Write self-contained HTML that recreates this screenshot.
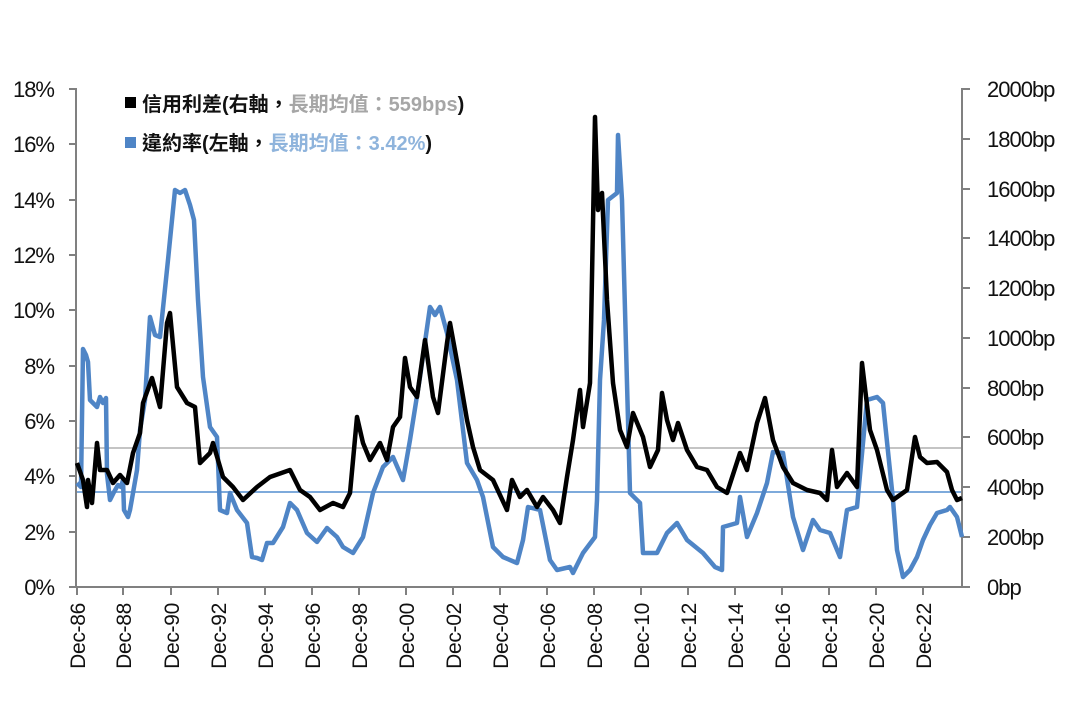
<!DOCTYPE html>
<html><head><meta charset="utf-8"><style>
body{margin:0;background:#fff;}
svg{display:block;}
text{font-family:"Liberation Sans","Noto Sans CJK TC",sans-serif;}
</style></head><body>
<svg width="1077" height="718" viewBox="0 0 1077 718" xmlns="http://www.w3.org/2000/svg">
<rect width="1077" height="718" fill="#fff"/>
<line x1="77" y1="448" x2="962" y2="448" stroke="#c4c4c4" stroke-width="2"/>
<line x1="77" y1="492" x2="962" y2="492" stroke="#7eaadb" stroke-width="2"/>
<g stroke="#808080" stroke-width="2" fill="none">
<line x1="76" y1="88" x2="76" y2="588"/>
<line x1="962" y1="88" x2="962" y2="588"/>
<line x1="69" y1="587" x2="962" y2="587"/>
</g>
<g stroke="#808080" stroke-width="2">
<line x1="69" y1="89" x2="76" y2="89"/><line x1="69" y1="144" x2="76" y2="144"/><line x1="69" y1="200" x2="76" y2="200"/><line x1="69" y1="255" x2="76" y2="255"/><line x1="69" y1="310" x2="76" y2="310"/><line x1="69" y1="366" x2="76" y2="366"/><line x1="69" y1="421" x2="76" y2="421"/><line x1="69" y1="476" x2="76" y2="476"/><line x1="69" y1="532" x2="76" y2="532"/>
<line x1="962" y1="89" x2="970" y2="89"/><line x1="962" y1="139" x2="970" y2="139"/><line x1="962" y1="189" x2="970" y2="189"/><line x1="962" y1="238" x2="970" y2="238"/><line x1="962" y1="288" x2="970" y2="288"/><line x1="962" y1="338" x2="970" y2="338"/><line x1="962" y1="388" x2="970" y2="388"/><line x1="962" y1="437" x2="970" y2="437"/><line x1="962" y1="487" x2="970" y2="487"/><line x1="962" y1="537" x2="970" y2="537"/><line x1="962" y1="587" x2="970" y2="587"/>
<line x1="77" y1="587" x2="77" y2="595"/><line x1="123" y1="587" x2="123" y2="595"/><line x1="171" y1="587" x2="171" y2="595"/><line x1="218" y1="587" x2="218" y2="595"/><line x1="265" y1="587" x2="265" y2="595"/><line x1="312" y1="587" x2="312" y2="595"/><line x1="359" y1="587" x2="359" y2="595"/><line x1="406" y1="587" x2="406" y2="595"/><line x1="453" y1="587" x2="453" y2="595"/><line x1="500" y1="587" x2="500" y2="595"/><line x1="547" y1="587" x2="547" y2="595"/><line x1="594" y1="587" x2="594" y2="595"/><line x1="641" y1="587" x2="641" y2="595"/><line x1="688" y1="587" x2="688" y2="595"/><line x1="735" y1="587" x2="735" y2="595"/><line x1="782" y1="587" x2="782" y2="595"/><line x1="829" y1="587" x2="829" y2="595"/><line x1="876" y1="587" x2="876" y2="595"/><line x1="923" y1="587" x2="923" y2="595"/>
</g>
<g font-size="22" fill="#111" text-anchor="end" letter-spacing="-1">
<text x="54" y="97">18%</text><text x="54" y="152">16%</text><text x="54" y="208">14%</text><text x="54" y="263">12%</text><text x="54" y="318">10%</text><text x="54" y="374">8%</text><text x="54" y="429">6%</text><text x="54" y="484">4%</text><text x="54" y="540">2%</text><text x="54" y="595">0%</text>
</g>
<g font-size="22" fill="#111" letter-spacing="-1">
<text x="987" y="97">2000bp</text><text x="987" y="147">1800bp</text><text x="987" y="197">1600bp</text><text x="987" y="246">1400bp</text><text x="987" y="296">1200bp</text><text x="987" y="346">1000bp</text><text x="987" y="396">800bp</text><text x="987" y="445">600bp</text><text x="987" y="495">400bp</text><text x="987" y="545">200bp</text><text x="987" y="595">0bp</text>
</g>
<g font-size="21" fill="#111" text-anchor="end" letter-spacing="-0.3">
<text transform="translate(85,603) rotate(-90)">Dec-86</text>
<text transform="translate(131,603) rotate(-90)">Dec-88</text>
<text transform="translate(179,603) rotate(-90)">Dec-90</text>
<text transform="translate(226,603) rotate(-90)">Dec-92</text>
<text transform="translate(273,603) rotate(-90)">Dec-94</text>
<text transform="translate(320,603) rotate(-90)">Dec-96</text>
<text transform="translate(367,603) rotate(-90)">Dec-98</text>
<text transform="translate(414,603) rotate(-90)">Dec-00</text>
<text transform="translate(461,603) rotate(-90)">Dec-02</text>
<text transform="translate(508,603) rotate(-90)">Dec-04</text>
<text transform="translate(555,603) rotate(-90)">Dec-06</text>
<text transform="translate(602,603) rotate(-90)">Dec-08</text>
<text transform="translate(649,603) rotate(-90)">Dec-10</text>
<text transform="translate(696,603) rotate(-90)">Dec-12</text>
<text transform="translate(743,603) rotate(-90)">Dec-14</text>
<text transform="translate(790,603) rotate(-90)">Dec-16</text>
<text transform="translate(837,603) rotate(-90)">Dec-18</text>
<text transform="translate(884,603) rotate(-90)">Dec-20</text>
<text transform="translate(931,603) rotate(-90)">Dec-22</text>
</g>
<polyline fill="none" stroke="#4f85c6" stroke-width="4.5" stroke-linejoin="round" points="77,483 81,487 83,349 86,355 88,362 90,400 97,407 100,397 103,403 106,398 107,474 110,500 114,492 118,485 121,487 123,480 124,510 128,517 130,510 133,493 137,470 140,430 145,400 150,317 155,335 160,337 168,260 175,190 180,193 185,190 190,205 194,220 198,300 203,377 210,427 217,437 220,510 227,513 230,493 237,510 247,523 252,557 257,558 262,560 267,543 273,543 283,527 290,503 297,510 307,533 317,542 327,528 337,537 343,547 353,553 363,537 373,493 383,467 393,457 403,480 410,440 420,377 430,307 435,315 440,307 447,333 457,380 467,463 477,480 483,497 493,547 503,557 517,563 523,540 528,507 540,510 550,560 557,570 570,567 573,573 583,553 595,537 597,500 600,380 604,320 608,200 617,193 618,135 622,200 630,493 640,503 643,553 657,553 667,533 677,523 687,540 703,553 715,567 722,570 723,527 737,523 740,497 747,537 757,513 767,483 773,452 783,453 793,517 803,550 813,520 820,530 830,533 840,557 847,510 857,507 867,400 877,397 883,403 893,500 897,550 903,577 910,570 917,557 923,540 930,525 937,513 947,510 950,507 957,517 962,537"/>
<polyline fill="none" stroke="#000" stroke-width="4.5" stroke-linejoin="round" points="77,463 83,480 87,507 88,480 92,503 97,443 100,470 107,470 113,483 120,475 127,483 133,453 140,433 143,403 152,378 160,407 167,323 170,313 177,387 187,403 195,407 200,463 210,453 213,443 223,477 233,487 243,500 257,487 270,477 290,470 300,490 310,497 320,510 333,503 343,507 350,493 357,417 363,443 370,460 380,443 387,460 393,427 400,417 405,358 410,387 417,397 425,340 433,397 438,413 447,343 450,323 458,367 467,420 473,447 480,470 493,480 507,510 512,480 520,497 527,490 537,507 543,497 553,510 560,523 567,477 573,440 580,390 583,427 590,383 595,117 598,210 602,193 607,300 613,383 620,430 627,447 633,413 643,437 650,467 658,450 662,393 667,420 673,440 678,423 687,450 697,467 707,470 717,487 727,493 740,453 747,470 757,423 765,398 773,440 783,467 793,483 807,490 820,493 827,500 832,450 837,487 847,473 857,487 862,363 870,430 877,450 887,490 893,500 907,490 915,437 920,457 927,463 937,462 947,472 952,490 957,500 962,498"/>
<rect x="125" y="97" width="11" height="11" fill="#000"/>
<text x="142" y="111" font-size="20" font-weight="bold" fill="#111">信用利差(右軸，<tspan fill="#a6a6a6">長期均值：559bps</tspan>)</text>
<rect x="125" y="137" width="11" height="11" fill="#4f85c6"/>
<text x="142" y="150" font-size="20" font-weight="bold" fill="#111">違約率(左軸，<tspan fill="#8fb4dc">長期均值：3.42%</tspan>)</text>
</svg>
</body></html>
